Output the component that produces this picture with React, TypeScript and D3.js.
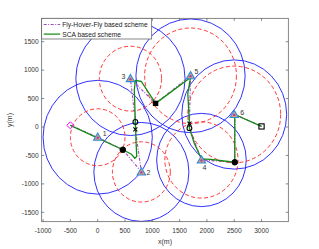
import React, { useEffect, useRef } from "react";
import { select, scaleLinear, line, range } from "d3";

// users (triangles) and their coverage circles
const userX = [0, 800, 600, 1900, 1700, 2500];
const userY = [-180, -790, 850, -580, 900, 220];
const userLabels = ["1", "2", "3", "4", "5", "6"];
const blueR = [1000, 870, 1000, 820, 1000, 960];
const redR = [500, 530, 570, 670, 840, 850];

// trajectories
const fhfX = [-500, 0, 460, 800, 690, 690, 600, 1060, 1700, 1680, 1680, 1900, 2510, 2510, 3000];
const fhfY = [30, -180, -400, -790, -40, 90, 850, 415, 900, 60, -20, -580, -620, 220, 10];
const scaX = [-500, 460, 620, 680, 715, 700, 690, 670, 690, 800, 1060, 1700, 1650, 1680, 1680, 1770, 1900, 2070, 2510, 2510, 3000];
const scaY = [30, -400, -480, -550, -520, -200, 90, 650, 820, 800, 415, 870, 590, 60, -20, -290, -560, -570, -620, 220, 10];

// hover points etc.
const hoverFilled = [[460, -400], [2510, -620]];
const hoverSquare = [[1060, 415]];
const openCircles = [[690, 90], [1680, -20]];
const xMarks = [[690, -40], [1680, 60]];
const startPt = [-500, 30];
const endPt = [3000, 10];

const xTicks = [-1000, -500, 0, 500, 1000, 1500, 2000, 2500, 3000];
const yTicks = [-1500, -1000, -500, 0, 500, 1000, 1500];

const App = () => {
  const svgRef = useRef(null);

  useEffect(() => {
    const W = 319;
    const H = 249;
    const left = 41.7, right = 288.3, top = 18.3, bottom = 221.7;

    const svg = select(svgRef.current);
    svg.selectAll("*").remove();
    svg.attr("width", W).attr("height", H);

    const x = scaleLinear().domain([-1025, 3490]).range([left, right]);
    const y = scaleLinear().domain([-1665, 1911]).range([bottom, top]);

    svg.append("rect").attr("width", W).attr("height", H).attr("fill", "#fff");

    svg.append("defs").append("clipPath").attr("id", "plotclip")
      .append("rect").attr("x", left).attr("y", top)
      .attr("width", right - left).attr("height", bottom - top);

    const g = svg.append("g").attr("clip-path", "url(#plotclip)");

    // blue circles
    g.selectAll(".blue").data(userX).enter().append("ellipse")
      .attr("cx", (d) => x(d))
      .attr("cy", (d, i) => y(userY[i]))
      .attr("rx", (d, i) => x(blueR[i]) - x(0))
      .attr("ry", (d, i) => y(0) - y(blueR[i]))
      .attr("fill", "none").attr("stroke", "#1a1aff").attr("stroke-width", 0.9);

    // red dashed circles
    g.selectAll(".red").data(userX).enter().append("ellipse")
      .attr("cx", (d) => x(d))
      .attr("cy", (d, i) => y(userY[i]))
      .attr("rx", (d, i) => x(redR[i]) - x(0))
      .attr("ry", (d, i) => y(0) - y(redR[i]))
      .attr("fill", "none").attr("stroke", "#ff2020").attr("stroke-width", 0.9)
      .attr("stroke-dasharray", "4,2.5");

    const lineGen = line().x((d) => x(d[0])).y((d) => y(d[1]));

    // Fly-Hover-Fly path
    g.append("path")
      .datum(fhfX.map((v, i) => [v, fhfY[i]]))
      .attr("d", lineGen)
      .attr("fill", "none").attr("stroke", "#a04cc0").attr("stroke-width", 1.1)
      .attr("stroke-dasharray", "3,1.5,1,1.5");

    // SCA path
    g.append("path")
      .datum(scaX.map((v, i) => [v, scaY[i]]))
      .attr("d", lineGen)
      .attr("fill", "none").attr("stroke", "#128a12").attr("stroke-width", 1.3)
      .attr("stroke-linejoin", "round");

    // users
    userX.forEach((ux, i) => {
      const cx = x(ux), cy = y(userY[i]);
      g.append("path")
        .attr("d", `M${cx},${cy - 4.2}L${cx + 4.2},${cy + 3}L${cx - 4.2},${cy + 3}Z`)
        .attr("fill", "#e39a80").attr("stroke", "#2b8fd8").attr("stroke-width", 1.1);
      g.append("circle").attr("cx", cx).attr("cy", cy + 0.5).attr("r", 1.2).attr("fill", "#9a4aa8");
    });

    // hover markers
    hoverFilled.forEach((p) => {
      g.append("circle").attr("cx", x(p[0])).attr("cy", y(p[1])).attr("r", 2.8)
        .attr("fill", "#000").attr("stroke", "#000");
    });
    hoverSquare.forEach((p) => {
      g.append("rect").attr("x", x(p[0]) - 2.7).attr("y", y(p[1]) - 2.7)
        .attr("width", 5.4).attr("height", 5.4).attr("fill", "#000");
    });
    openCircles.forEach((p) => {
      g.append("circle").attr("cx", x(p[0])).attr("cy", y(p[1])).attr("r", 2.4)
        .attr("fill", "none").attr("stroke", "#000").attr("stroke-width", 1.1);
    });
    xMarks.forEach((p) => {
      const cx = x(p[0]), cy = y(p[1]);
      g.append("path")
        .attr("d", `M${cx - 2},${cy - 2}L${cx + 2},${cy + 2}M${cx + 2},${cy - 2}L${cx - 2},${cy + 2}`)
        .attr("stroke", "#000").attr("stroke-width", 1.1);
    });
    g.append("path")
      .attr("d", `M${x(startPt[0])},${y(startPt[1]) - 3.5}l3.5,3.5l-3.5,3.5l-3.5,-3.5Z`)
      .attr("fill", "none").attr("stroke", "#ff00ff").attr("stroke-width", 1);
    g.append("rect").attr("x", x(endPt[0]) - 2.6).attr("y", y(endPt[1]) - 2.6)
      .attr("width", 5.2).attr("height", 5.2)
      .attr("fill", "none").attr("stroke", "#000").attr("stroke-width", 1.1);

    // user labels
    const labelDx = [5, 5, -9, 1, 4, 6];
    const labelDy = [-1, 3, 0, 10, -2, 1];
    userX.forEach((ux, i) => {
      svg.append("text")
        .attr("x", x(ux) + labelDx[i]).attr("y", y(userY[i]) + labelDy[i])
        .attr("font-family", "Liberation Sans, Arial, sans-serif").attr("font-size", 7)
        .attr("fill", "#333").text(userLabels[i]);
    });

    // axes box and ticks
    const axisColor = "#555";
    svg.append("rect").attr("x", left).attr("y", top)
      .attr("width", right - left).attr("height", bottom - top)
      .attr("fill", "none").attr("stroke", axisColor).attr("stroke-width", 0.7);

    xTicks.forEach((t) => {
      const px = x(t);
      svg.append("line").attr("x1", px).attr("x2", px).attr("y1", bottom).attr("y2", bottom - 2.5)
        .attr("stroke", axisColor).attr("stroke-width", 0.7);
      svg.append("line").attr("x1", px).attr("x2", px).attr("y1", top).attr("y2", top + 2.5)
        .attr("stroke", axisColor).attr("stroke-width", 0.7);
      svg.append("text").attr("x", px).attr("y", bottom + 11)
        .attr("text-anchor", "middle")
        .attr("font-family", "Liberation Sans, Arial, sans-serif").attr("font-size", 6.6)
        .attr("fill", "#333").text(t);
    });
    yTicks.forEach((t) => {
      const py = y(t);
      svg.append("line").attr("x1", left).attr("x2", left + 2.5).attr("y1", py).attr("y2", py)
        .attr("stroke", axisColor).attr("stroke-width", 0.7);
      svg.append("line").attr("x1", right).attr("x2", right - 2.5).attr("y1", py).attr("y2", py)
        .attr("stroke", axisColor).attr("stroke-width", 0.7);
      svg.append("text").attr("x", left - 3).attr("y", py + 2.3)
        .attr("text-anchor", "end")
        .attr("font-family", "Liberation Sans, Arial, sans-serif").attr("font-size", 6.6)
        .attr("fill", "#333").text(t);
    });

    // axis labels
    svg.append("text").attr("x", (left + right) / 2).attr("y", 244)
      .attr("text-anchor", "middle")
      .attr("font-family", "Liberation Sans, Arial, sans-serif").attr("font-size", 7)
      .attr("fill", "#333").text("x(m)");
    svg.append("text")
      .attr("transform", `translate(12, ${(top + bottom) / 2}) rotate(-90)`)
      .attr("text-anchor", "middle")
      .attr("font-family", "Liberation Sans, Arial, sans-serif").attr("font-size", 7)
      .attr("fill", "#333").text("y(m)");

    // legend
    const lg = svg.append("g");
    lg.append("rect").attr("x", left).attr("y", top).attr("width", 110).attr("height", 20.7)
      .attr("fill", "#fff").attr("stroke", axisColor).attr("stroke-width", 0.7);
    const legendItems = [
      { label: "Fly-Hover-Fly based scheme", color: "#a04cc0", dash: "3,1.5,1,1.5" },
      { label: "SCA based scheme", color: "#128a12", dash: null },
    ];
    legendItems.forEach((d, i) => {
      const ly = top + 6.2 + i * 9.6;
      lg.append("line").attr("x1", left + 2).attr("x2", left + 18.5).attr("y1", ly).attr("y2", ly)
        .attr("stroke", d.color).attr("stroke-width", 1.2)
        .attr("stroke-dasharray", d.dash);
      lg.append("text").attr("x", left + 20.5).attr("y", ly + 2.4)
        .attr("font-family", "Liberation Sans, Arial, sans-serif").attr("font-size", 6.7)
        .attr("fill", "#222").text(d.label);
    });
  }, []);

  return (
    <svg ref={svgRef} style={{ position: "absolute", left: 0, top: 0, display: "block" }}></svg>
  );
};

export default App;
